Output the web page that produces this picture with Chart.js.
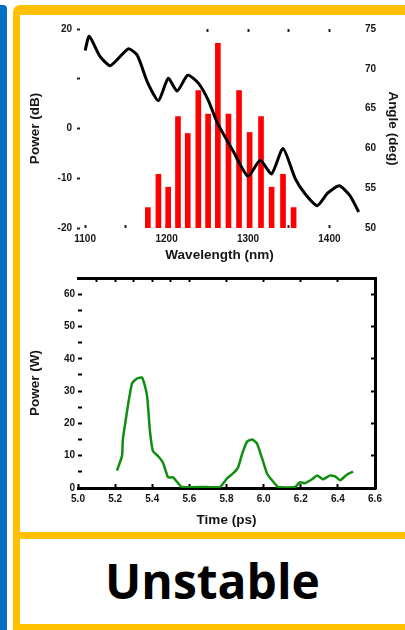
<!DOCTYPE html>
<html>
<head>
<meta charset="utf-8">
<script src="https://cdn.jsdelivr.net/npm/chart.js@4.4.1/dist/chart.umd.min.js"></script>
<style>
  html, body { margin:0; padding:0; background:#fff; width:405px; height:630px; overflow:hidden; }
  .abs { position:absolute; }
  #blue { left:0; top:5px; width:7px; height:640px; background:#0070c0; border-top-right-radius:4px; }
  #yellow { left:13px; top:5px; width:440px; height:660px; background:#ffc000; border-top-left-radius:7px; }
  #box1 { left:20px; top:15px; width:420px; height:517px; background:#fff; }
  #box2 { left:20px; top:539px; width:420px; height:85px; background:#fff; }
  #label { left:20px; top:538px; width:385px; height:85px; display:flex; align-items:center; justify-content:center;
           font-family:"Open Sans", sans-serif; font-weight:700; font-size:48px; color:#000; }
  #c1 { left:20px; top:15px; }
  #c2 { left:20px; top:265px; }
</style>
</head>
<body>
<div id="blue" class="abs"></div>
<div id="yellow" class="abs"></div>
<div id="box1" class="abs"></div>
<div id="box2" class="abs"></div>
<div id="label" class="abs">Unstable</div>
<canvas id="c1" class="abs" width="385" height="250"></canvas>
<canvas id="c2" class="abs" width="385" height="267"></canvas>
<script>
// ---- Top chart data ----
const wavelengthNm = [1177,1190,1202,1214,1226,1239,1251,1263,1276,1289,1302,1316,1329,1343,1356];
const spectrumPowerDb = [-15.9,-9.2,-11.8,2.4,-1.0,7.6,2.9,17.1,2.9,7.6,-0.8,2.4,-11.8,-9.2,-15.9];
const POWER_FLOOR_DB = -20;
const angleWavelengthNm = [1100,1105,1118,1131,1153,1164,1177,1190,1202,1213,1226,1239,1251,1262,1282,1300,1315,1329,1343,1358,1370,1385,1398,1412,1425,1436];
const angleDeg = [72.3,74.1,71.6,70.4,72.5,71.7,68.2,66.0,68.8,67.2,69.2,68.2,66.1,63.3,59.6,56.5,58.5,56.8,60.0,56.2,54.3,52.8,54.4,55.3,54.1,52.0];
const wlTicks = [1100,1150,1200,1250,1300,1350,1400];
const wlTopTicks = [1250,1300,1350,1400];
const powerDbTicks = [-20,-10,0,10,20];
const powerDbLabels = ['-20','-10','0','','20'];
const angleTicks = [50,55,60,65,70,75];

// ---- Bottom chart data ----
const timePs = [5.210,5.237,5.242,5.253,5.269,5.291,5.318,5.345,5.361,5.372,5.377,5.388,5.404,5.431,5.458,5.485,5.512,5.539,5.560,5.695,5.765,5.803,5.835,5.862,5.884,5.911,5.938,5.964,5.991,6.018,6.045,6.078,6.169,6.196,6.223,6.261,6.288,6.320,6.358,6.385,6.412,6.450,6.482];
const powerW = [5.4,9.9,15.3,19.5,25.5,32.4,33.9,34.2,31.5,28.5,25.5,17.4,11.4,9.9,7.8,3.3,3.3,1.5,0.3,0.3,0.3,3.0,4.5,6.3,10.5,14.4,15.0,13.8,9.3,4.5,2.4,0.3,0.3,1.8,1.5,2.7,3.9,2.7,3.9,3.6,2.4,4.2,5.1];
const timeTicks = [5.0,5.2,5.4,5.6,5.8,6.0,6.2,6.4,6.6];
const timeTopTicks = [5.1,5.2,5.3,5.4,5.5,5.6,5.8,6.0,6.2,6.4];
const powerWTicks = [0,5,10,15,20,25,30,35,40,45,50,55,60];
const powerWRightTicks = [10,20,30,40,50,60];

const TXT = '#151515';
const tickFont = { family: 'Liberation Sans, Arial, sans-serif', size: 10, weight: 'bold' };
const titleFont = { family: 'Liberation Sans, Arial, sans-serif', size: 13.5, weight: 'bold' };
const setTicks = arr => scale => { scale.ticks = arr.map(v => ({ value: v })); };
const fixW = w => scale => { scale.width = w; };
const fixH = h => scale => { scale.height = h; };

Chart.defaults.animation = false;

new Chart(document.getElementById('c1'), {
  type: 'bar',
  data: {
    datasets: [
      {
        type: 'line',
        data: angleWavelengthNm.map((x, i) => ({ x, y: angleDeg[i] })),
        xAxisID: 'x', yAxisID: 'yA',
        borderColor: '#000', borderWidth: 3, pointRadius: 0, tension: 0.2,
        order: 0
      },
      {
        type: 'bar',
        data: wavelengthNm.map((x, i) => ({ x, y: [POWER_FLOOR_DB, spectrumPowerDb[i]] })),
        xAxisID: 'x', yAxisID: 'yP',
        backgroundColor: '#ff0000', borderWidth: 0, barThickness: 5,
        order: 1
      }
    ]
  },
  options: {
    responsive: false, devicePixelRatio: 1, animation: false,
    layout: { padding: 0 },
    plugins: { legend: { display: false }, tooltip: { enabled: false } },
    scales: {
      x: {
        type: 'linear', position: 'bottom', min: 1090, max: 1440, offset: false,
        afterBuildTicks: setTicks(wlTicks), afterFit: fixH(37),
        border: { display: false },
        grid: { offset: false, drawOnChartArea: false, tickLength: -3, tickWidth: 2, tickColor: '#222' },
        ticks: { font: tickFont, color: TXT, padding: 8, maxRotation: 0, autoSkip: false,
                 callback: v => (v % 100 === 0 ? String(v) : '') },
        title: { display: true, text: 'Wavelength (nm)', font: titleFont, color: TXT, padding: { top: 0, bottom: 2 } }
      },
      xTop: {
        type: 'linear', position: 'top', min: 1090, max: 1440, offset: false,
        afterBuildTicks: setTicks(wlTopTicks), afterFit: fixH(9),
        border: { display: false },
        grid: { offset: false, drawOnChartArea: false, tickLength: -3, tickWidth: 2, tickColor: '#222' },
        ticks: { display: false }
      },
      yP: {
        type: 'linear', position: 'left', min: -20, max: 20,
        afterBuildTicks: setTicks(powerDbTicks), afterFit: fixW(57),
        border: { display: false },
        grid: { drawOnChartArea: false, tickLength: -3, tickWidth: 2, tickColor: '#222' },
        ticks: { font: tickFont, color: TXT, padding: 8, autoSkip: false,
                 callback: v => powerDbLabels[powerDbTicks.indexOf(v)] },
        title: { display: true, text: 'Power (dB)', font: titleFont, color: TXT, padding: { top: 7, bottom: 0 } }
      },
      yA: {
        type: 'linear', position: 'right', min: 50, max: 75,
        afterBuildTicks: setTicks(angleTicks), afterFit: fixW(43),
        border: { display: false },
        grid: { display: false, drawTicks: false },
        ticks: { font: tickFont, color: TXT, padding: 3, autoSkip: false, callback: v => String(v) },
        title: { display: true, text: 'Angle (deg)', font: titleFont, color: TXT, padding: { top: 4, bottom: 0 } }
      }
    }
  }
});

new Chart(document.getElementById('c2'), {
  type: 'line',
  data: {
    datasets: [{
      data: timePs.map((x, i) => ({ x, y: powerW[i] })),
      xAxisID: 'x', yAxisID: 'y',
      borderColor: '#0f8f0f', borderWidth: 2.5, pointRadius: 0, tension: 0.15
    }]
  },
  options: {
    responsive: false, devicePixelRatio: 1, animation: false,
    layout: { padding: 0 },
    plugins: { legend: { display: false }, tooltip: { enabled: false } },
    scales: {
      x: {
        type: 'linear', position: 'bottom', min: 5.0, max: 6.6,
        afterBuildTicks: setTicks(timeTicks), afterFit: fixH(44),
        border: { display: true, color: '#000', width: 3 },
        grid: { drawOnChartArea: false, tickLength: -4, tickWidth: 2, tickColor: '#000' },
        ticks: { font: tickFont, color: TXT, padding: 9, maxRotation: 0, autoSkip: false, callback: v => v.toFixed(1) },
        title: { display: true, text: 'Time (ps)', font: titleFont, color: TXT, padding: { top: 0, bottom: 4 } }
      },
      xTop: {
        type: 'linear', position: 'top', min: 5.0, max: 6.6,
        afterBuildTicks: setTicks(timeTopTicks), afterFit: fixH(7),
        border: { display: true, color: '#000', width: 3 },
        grid: { drawOnChartArea: false, tickLength: -4, tickWidth: 2, tickColor: '#000' },
        ticks: { display: false }
      },
      y: {
        type: 'linear', position: 'left', min: 0, max: 65,
        afterBuildTicks: setTicks(powerWTicks), afterFit: fixW(58),
        border: { display: false },
        grid: { drawOnChartArea: false, tickLength: -4, tickWidth: 2, tickColor: '#000' },
        ticks: { font: tickFont, color: TXT, padding: 7, autoSkip: false,
                 callback: v => (v % 10 === 0 ? String(v) : '') },
        title: { display: true, text: 'Power (W)', font: titleFont, color: TXT, padding: { top: 7, bottom: 0 } }
      },
      yR: {
        type: 'linear', position: 'right', min: 0, max: 65,
        afterBuildTicks: setTicks(powerWRightTicks), afterFit: fixW(30),
        border: { display: true, color: '#000', width: 3 },
        grid: { drawOnChartArea: false, tickLength: -4, tickWidth: 2, tickColor: '#000' },
        ticks: { display: false }
      }
    }
  }
});
</script>
</body>
</html>
